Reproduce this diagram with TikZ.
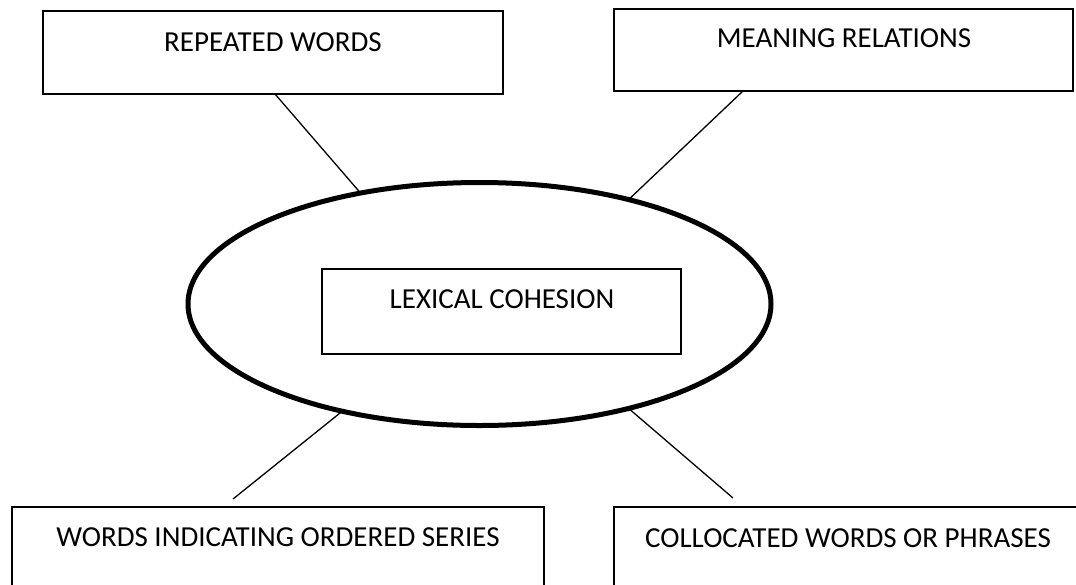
\documentclass[tikz,border=0pt]{standalone}
\usepackage{fontspec}
\setmainfont{Carlito}
\usetikzlibrary{shapes.geometric}
\begin{document}
\begin{tikzpicture}[x=1pt,y=-1pt,
  box/.style={draw, rectangle, line width=1.6pt, inner sep=0pt, outer sep=0pt, anchor=north west},
  lbl/.style={font=\fontsize{29}{34}\selectfont, anchor=base, inner sep=0pt},
  link/.style={line width=1.3pt}]
\useasboundingbox (0,0) rectangle (1076,584);

% central ellipse with the core concept
\node[draw, ellipse, line width=5pt, minimum width=583pt, minimum height=243pt,
      inner sep=0pt, outer sep=0pt] (hub) at (479.5,304) {};
\node[box, minimum width=359pt, minimum height=85pt] (core) at (322,269) {};
\node[lbl] (coretext) at (502,308) {LEXICAL COHESION};

% upper boxes
\node[box, minimum width=460pt, minimum height=83pt] (tl) at (43,11) {};
\node[lbl] (tltext) at (273,51) {REPEATED WORDS};
\node[box, minimum width=459pt, minimum height=82pt] (tr) at (614,9) {};
\node[lbl] (trtext) at (844,47) {MEANING RELATIONS};

% lower boxes (run past the page edge)
\node[box, minimum width=532pt, minimum height=100pt] (bl) at (12,507) {};
\node[lbl] (bltext) at (278,546) {WORDS INDICATING ORDERED SERIES};
\node[box, minimum width=468pt, minimum height=100pt] (br) at (614,507) {};
\node[lbl] (brtext) at (848,547) {COLLOCATED WORDS OR PHRASES};

% connectors
\coordinate (blend) at (233,499);
\coordinate (brend) at (733,498);
\draw[link] ([xshift=232pt]tl.south west) -- (hub.137.3);
\draw[link] ([xshift=129pt]tr.south west) -- (hub.35.4);
\draw[link] (hub.218.5) -- (blend);
\draw[link] (hub.-35.3) -- (brend);
\end{tikzpicture}
\end{document}
